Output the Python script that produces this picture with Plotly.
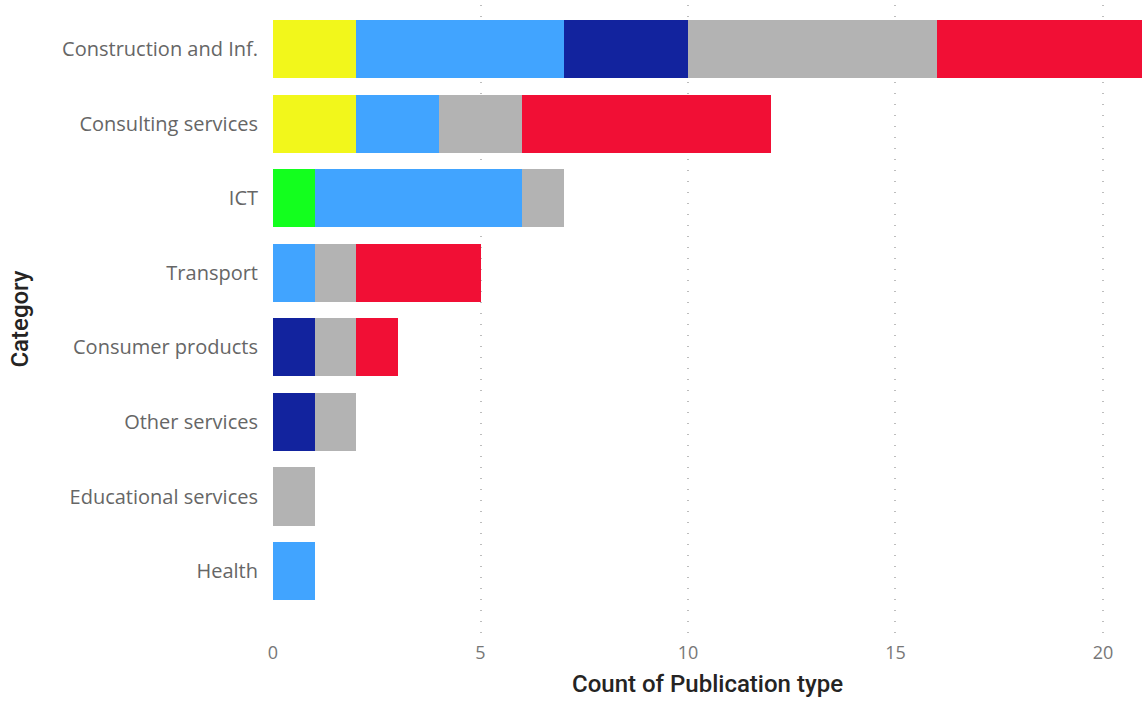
import plotly.graph_objects as go

categories = [
    "Construction and Inf.",
    "Consulting services",
    "ICT",
    "Transport",
    "Consumer products",
    "Other services",
    "Educational services",
    "Health",
]

# counts per publication type, in the same order as the categories
book_chapter = [2, 2, 0, 0, 0, 0, 0, 0]
case_study = [0, 0, 1, 0, 0, 0, 0, 0]
conference_paper = [5, 2, 5, 1, 0, 0, 0, 1]
dissertation = [3, 0, 0, 0, 1, 1, 0, 0]
journal_article = [6, 2, 1, 1, 1, 1, 1, 0]
report = [6, 6, 0, 3, 1, 0, 0, 0]

series = [
    ("Book chapter", book_chapter, "#F2F71B"),
    ("Case study", case_study, "#13FF1E"),
    ("Conference paper", conference_paper, "#41A4FF"),
    ("Dissertation", dissertation, "#12239E"),
    ("Journal article", journal_article, "#B3B3B3"),
    ("Report", report, "#F10F35"),
]

fig = go.Figure()
for name, values, color in series:
    fig.add_trace(go.Bar(
        y=categories,
        x=values,
        name=name,
        orientation="h",
        marker=dict(color=color, line=dict(width=0)),
        hovertemplate="%{y}<br>" + name + ": %{x}<extra></extra>",
    ))

fig.update_layout(
    barmode="stack",
    bargap=0.22,
    width=1142,
    height=702,
    margin=dict(l=273, r=0, t=5, b=69),
    plot_bgcolor="white",
    paper_bgcolor="white",
    showlegend=False,
    font=dict(family="Open Sans", color="#666666"),
)

fig.update_xaxes(
    range=[0, 20.94],
    tickvals=[0, 5, 10, 15, 20],
    tickfont=dict(family="Open Sans", size=18, color="#777777"),
    showgrid=True,
    gridcolor="#BDBDBD",
    griddash="1px,10px",
    gridwidth=1.5,
    zeroline=False,
    showline=False,
    ticklabelstandoff=7,
    title=dict(
        text="Count of Publication type",
        font=dict(family="Roboto", size=24, color="#252423", weight=500),
        standoff=12,
    ),
)

fig.update_yaxes(
    categoryorder="array",
    categoryarray=categories,
    range=[7.83, -0.59],
    tickfont=dict(family="Open Sans", size=20, color="#666666"),
    showgrid=False,
    zeroline=False,
    showline=False,
    ticklabelstandoff=14,
    title=dict(
        text="Category",
        font=dict(family="Roboto", size=24, color="#252423", weight=500),
        standoff=26,
    ),
)

fig.write_html("out.html")
